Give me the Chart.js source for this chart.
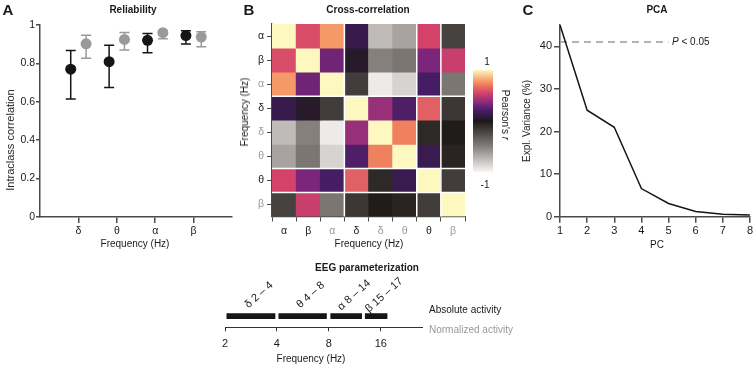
<!DOCTYPE html>
<html><head><meta charset="utf-8">
<script src="https://cdn.jsdelivr.net/npm/chart.js@4.4.0/dist/chart.umd.min.js"></script>
<style>
body{margin:0;width:755px;height:366px;background:#fff;position:relative;overflow:hidden;font-family:"Liberation Sans",Arial,sans-serif;}
canvas{position:absolute;}
.t{position:absolute;white-space:nowrap;font-size:10px;color:#1a1a1a;line-height:1;}
.b{font-weight:bold;}
.L{font-weight:bold;font-size:15px;}
.c{transform:translate(-50%,-50%);}
.r{transform:translate(-50%,-50%) rotate(-90deg);}
</style></head><body>
<canvas id="cA" width="245" height="260" style="left:0;top:0"></canvas>
<canvas id="cB" width="290" height="260" style="left:230px;top:0"></canvas>
<canvas id="cC" width="235" height="260" style="left:520px;top:0"></canvas>
<canvas id="cD" width="360" height="116" style="left:200px;top:250px"></canvas>

<div class="t L c" style="left:8px;top:9px">A</div>
<div class="t L c" style="left:249px;top:9px">B</div>
<div class="t L c" style="left:528px;top:9px">C</div>
<div class="t b c" style="left:133px;top:10px">Reliability</div>
<div class="t b c" style="left:368px;top:10px">Cross-correlation</div>
<div class="t b c" style="left:657px;top:10px">PCA</div>
<div class="t r" style="left:10px;top:140px;font-size:11px;line-height:12px;width:120px;text-align:center">Intraclass correlation</div>
<div class="t c" style="left:135px;top:244px">Frequency (Hz)</div>
<div class="t r" style="left:245px;top:112px">Frequency (Hz)</div>
<div class="t c" style="left:369px;top:244px">Frequency (Hz)</div>
<div class="t c" style="left:487px;top:62px">1</div>
<div class="t c" style="left:485px;top:185px">-1</div>
<div class="t c" style="left:505px;top:115px;transform:translate(-50%,-50%) rotate(90deg)">Pearson's <i>r</i></div>
<div class="t r" style="left:527px;top:121px">Expl. Variance (%)</div>
<div class="t c" style="left:657px;top:245px">PC</div>
<div class="t" style="left:672px;top:37px"><i>P</i> &lt; 0.05</div>
<div class="t b c" style="left:367px;top:268px">EEG parameterization</div>
<div class="t" style="left:429px;top:305px">Absolute activity</div>
<div class="t" style="left:429px;top:325px;color:#999">Normalized activity</div>
<div class="t c" style="left:311px;top:359px">Frequency (Hz)</div>

<script>
// ---------- data ----------
const bands = ['δ','θ','α','β'];
const relAbs    = [0.770, 0.809, 0.920, 0.945];
const relAbsLo  = [0.615, 0.675, 0.856, 0.901];
const relAbsHi  = [0.867, 0.894, 0.956, 0.970];
const relNorm   = [0.902, 0.925, 0.960, 0.937];
const relNormLo = [0.827, 0.870, 0.928, 0.887];
const relNormHi = [0.946, 0.961, 0.968, 0.965];

const ccLabels = ['α','β','α','δ','δ','θ','θ','β'];
const ccNormalized = [false,false,true,false,true,true,false,true];
const ccR = [
  [ 1.00, 0.58, 0.78, 0.13,-0.75,-0.65, 0.55,-0.20],
  [ 0.58, 1.00, 0.30, 0.04,-0.50,-0.45, 0.33, 0.52],
  [ 0.78, 0.30, 1.00,-0.18,-0.95,-0.85, 0.20,-0.45],
  [ 0.13, 0.04,-0.18, 1.00, 0.40, 0.22, 0.63,-0.15],
  [-0.75,-0.50,-0.95, 0.40, 1.00, 0.72,-0.08,-0.02],
  [-0.65,-0.45,-0.85, 0.22, 0.72, 1.00, 0.14,-0.06],
  [ 0.55, 0.33, 0.20, 0.63,-0.08, 0.14, 1.00,-0.18],
  [-0.20, 0.52,-0.45,-0.15,-0.02,-0.06,-0.18, 1.00]
];
const ccSeparators = [3, 6, 7];

const pcs = [1,2,3,4,5,6,7,8];
const explVar = [45, 25, 21, 6.6, 3.1, 1.2, 0.55, 0.4];
const pThreshold = 41;
const pThresholdEnd = 5;

const eegNames = ['δ 2 – 4','θ 4 – 8','α 8 – 14','β 15 – 17'];
const eegLo = [2.05, 4.1, 8.2, 13.0];
const eegHi = [3.9, 7.75, 12.4, 17.4];
const eegTicks = [2, 4, 8, 16];

// ---------- styles ----------
const FONT = '"Liberation Sans", Arial, sans-serif';
Chart.defaults.font.family = FONT;
Chart.defaults.font.size = 10;
Chart.defaults.color = '#1a1a1a';
Chart.defaults.animation = false;
Chart.defaults.plugins.legend.display = false;
Chart.defaults.plugins.tooltip.enabled = false;
const AX = '#4a4a4a';
const DARK = '#151515', GREY = '#9a9a9a';

const cmapStops = [[-1,[248,246,245]],[-0.5,[133,128,124]],[0,[28,24,22]],[0.05,[40,26,48]],[0.2,[70,28,100]],[0.35,[132,40,126]],[0.55,[212,66,106]],[0.75,[245,140,92]],[1,[252,248,192]]];
function cmap(r){
  for(let i=1;i<cmapStops.length;i++){
    const [r0,c0]=cmapStops[i-1],[r1,c1]=cmapStops[i];
    if(r<=r1){const t=(r-r0)/(r1-r0);return 'rgb('+c0.map((v,k)=>Math.round(v+(c1[k]-v)*t)).join(',')+')';}
  }
  return 'rgb('+cmapStops[cmapStops.length-1][1].join(',')+')';
}
function gridOpts(len,w){return {drawOnChartArea:false,drawTicks:true,tickLength:len,color:AX,lineWidth:w};}
function borderOpts(w){return {display:true,color:AX,width:w};}

// ---------- A: reliability ----------
const errorBars = {id:'errorBars', beforeDatasetsDraw(chart){
  const {ctx, scales:{x,y}} = chart;
  chart.data.datasets.forEach(ds=>{
    ctx.save(); ctx.strokeStyle = ds.backgroundColor; ctx.lineWidth = 1.5;
    ds.data.forEach((p,i)=>{
      const px=x.getPixelForValue(p.x), lo=y.getPixelForValue(ds.errLo[i]), hi=y.getPixelForValue(ds.errHi[i]);
      ctx.beginPath(); ctx.moveTo(px,lo); ctx.lineTo(px,hi);
      ctx.moveTo(px-5,lo); ctx.lineTo(px+5,lo); ctx.moveTo(px-5,hi); ctx.lineTo(px+5,hi); ctx.stroke();
    });
    ctx.restore();
  });
}};
new Chart(document.getElementById('cA'), {
  type:'scatter',
  data:{datasets:[
    {data:bands.map((b,i)=>({x:i+1-0.2,y:relAbs[i]})), errLo:relAbsLo, errHi:relAbsHi, backgroundColor:DARK, borderColor:DARK, pointRadius:5.5, borderWidth:0},
    {data:bands.map((b,i)=>({x:i+1+0.2,y:relNorm[i]})), errLo:relNormLo, errHi:relNormHi, backgroundColor:GREY, borderColor:GREY, pointRadius:5.5, borderWidth:0}
  ]},
  options:{responsive:false, devicePixelRatio:1, clip:false,
    layout:{padding:{left:0,top:25,right:13,bottom:0}},
    scales:{
      x:{type:'linear',min:0,max:5, grid:gridOpts(6,1.5), border:borderOpts(1.5),
         afterBuildTicks:s=>{s.ticks=bands.map((b,i)=>({value:i+1}));},
         afterFit:s=>{s.height=43;},
         ticks:{autoSkip:false,maxRotation:0,padding:2,font:{size:10.5},callback:v=>bands[v-1]}},
      y:{min:0,max:1, grid:gridOpts(4,1.5), border:borderOpts(1.5),
         afterFit:s=>{s.width=40;},
         ticks:{stepSize:0.2,padding:1,font:{size:10.5},callback:v=>(v===0||v===1)?String(v):v.toFixed(1)}}
    }},
  plugins:[errorBars]
});

// ---------- B: cross-correlation ----------
const separators = {id:'sep', afterDatasetsDraw(chart){
  const {ctx, chartArea:a, scales:{x,y}} = chart;
  ctx.save(); ctx.strokeStyle='#fff'; ctx.lineWidth=1.5;
  ccSeparators.forEach(k=>{
    const xp=(x.getPixelForValue(k-1)+x.getPixelForValue(k))/2, yp=y.getPixelForValue(k);
    ctx.beginPath(); ctx.moveTo(xp,a.top); ctx.lineTo(xp,a.bottom); ctx.moveTo(a.left,yp); ctx.lineTo(a.right,yp); ctx.stroke();
  });
  ctx.restore();
}};
const colorbar = {id:'cbar', afterDraw(chart){
  const ctx=chart.ctx, x0=243, x1=263, y0=70, y1=172;
  const g=ctx.createLinearGradient(0,y0,0,y1);
  cmapStops.forEach(([r,c])=>g.addColorStop((1-r)/2,'rgb('+c.join(',')+')'));
  ctx.fillStyle=g; ctx.fillRect(x0,y0,x1-x0,y1-y0);
}};
new Chart(document.getElementById('cB'), {
  type:'bar',
  data:{labels:ccLabels, datasets:ccR.map((row,i)=>({
    data:row.map(()=>[i,i+1]), backgroundColor:row.map(cmap), grouped:false,
    barPercentage:1, categoryPercentage:1, borderWidth:0
  }))},
  options:{responsive:false, devicePixelRatio:1,
    layout:{padding:{left:0,top:24,right:55,bottom:0}},
    scales:{
      x:{grid:gridOpts(5,1), border:borderOpts(1.2), afterFit:s=>{s.height=43.5;},
         ticks:{autoSkip:false,maxRotation:0,padding:3,font:{size:10.5},callback:(v,i)=>ccLabels[i],
                color:c=>ccNormalized[c.index]?GREY:'#1a1a1a'}},
      y:{type:'linear',min:0,max:8,reverse:true, grid:gridOpts(5,1), border:borderOpts(1.2),
         afterFit:s=>{s.width=42;},
         afterBuildTicks:s=>{s.ticks=ccLabels.map((l,i)=>({value:i+0.5}));},
         ticks:{autoSkip:false,padding:3,font:{size:10.5},callback:v=>ccLabels[Math.floor(v)],
                color:c=>ccNormalized[Math.floor(c.tick.value)]?GREY:'#1a1a1a'}}
    }},
  plugins:[separators, colorbar]
});

// ---------- C: PCA ----------
new Chart(document.getElementById('cC'), {
  type:'line',
  data:{datasets:[
    {data:pcs.map((p,i)=>({x:p,y:explVar[i]})), borderColor:DARK, borderWidth:1.5, pointRadius:0, tension:0},
    {data:[{x:pcs[0],y:pThreshold},{x:pThresholdEnd,y:pThreshold}], borderColor:GREY, borderWidth:1.5, borderDash:[7,5], pointRadius:0}
  ]},
  options:{responsive:false, devicePixelRatio:1,
    layout:{padding:{left:0,top:25,right:3,bottom:0}},
    scales:{
      x:{type:'linear',min:1,max:8, grid:gridOpts(6,1.5), border:borderOpts(1.5), afterFit:s=>{s.height=43.3;},
         ticks:{stepSize:1,padding:2,maxRotation:0,font:{size:11}}},
      y:{min:0,max:45, grid:gridOpts(6,1.5), border:borderOpts(1.5), afterFit:s=>{s.width=40;},
         afterBuildTicks:s=>{s.ticks=s.ticks.filter(t=>t.value%10===0);},
         ticks:{stepSize:10,padding:2,font:{size:11}}}
    }}
});

// ---------- D: EEG parameterization ----------
const bandLabels = {id:'bandLabels', afterDatasetsDraw(chart){
  const {ctx, scales:{x}, chartArea:a} = chart;
  ctx.save(); ctx.font='11px '+FONT; ctx.fillStyle='#1a1a1a'; ctx.textAlign='center'; ctx.textBaseline='middle';
  eegNames.forEach((n,i)=>{
    const cx=(x.getPixelForValue(eegLo[i])+x.getPixelForValue(eegHi[i]))/2+8;
    ctx.save(); ctx.translate(cx,a.top-10); ctx.rotate(-42*Math.PI/180); ctx.fillText(n,0,0); ctx.restore();
  });
  ctx.restore();
}};
new Chart(document.getElementById('cD'), {
  type:'bar',
  data:{labels:['EEG'], datasets:eegNames.map((n,i)=>({
    data:[[eegLo[i],eegHi[i]]], backgroundColor:DARK, barThickness:5, grouped:false, borderWidth:0
  }))},
  options:{indexAxis:'y', responsive:false, devicePixelRatio:1,
    layout:{padding:{left:25,top:55,right:137.3,bottom:0}},
    scales:{
      x:{type:'logarithmic',min:2,max:28, grid:{drawOnChartArea:false,drawTicks:true,tickLength:4,color:'#333',lineWidth:1},
         border:{display:true,color:'#333',width:1}, afterFit:s=>{s.height=38.7;},
         afterBuildTicks:s=>{s.ticks=eegTicks.map(v=>({value:v}));},
         ticks:{autoSkip:false,maxRotation:0,padding:6,font:{size:11},callback:v=>String(v)}},
      y:{display:false}
    }},
  plugins:[bandLabels]
});
</script>
</body></html>
